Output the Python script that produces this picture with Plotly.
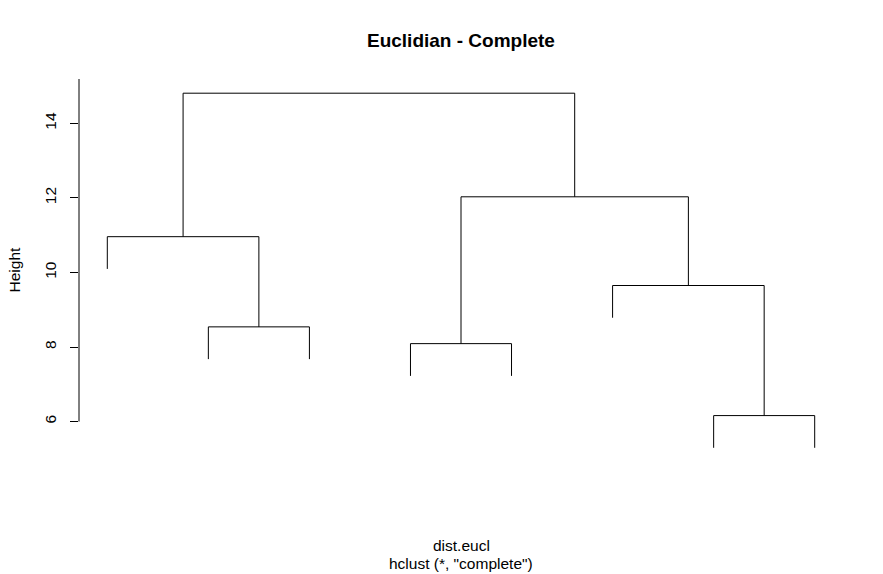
import plotly.graph_objects as go

# Dendrogram data (R hclust convention: negative = leaf position, positive = earlier merge step)
merge_left = [-7, -4, -2, -6, -1, 2, 5]
merge_right = [-8, -5, -3, 1, 3, 4, 6]
merge_heights = [6.16, 8.09, 8.54, 9.65, 10.96, 12.03, 14.81]
n_leaves = 8
y_ticks = [6, 8, 10, 12, 14]

title_text = "Euclidian - Complete"
sub_line1 = "dist.eucl"
sub_line2 = 'hclust (*, "complete")'
ylab = "Height"

FONT = "Liberation Sans, Arial, sans-serif"

hang = 0.1 * (max(merge_heights) - min(merge_heights))

node_x = {}
xs, ys = [], []
for i, (a, b) in enumerate(zip(merge_left, merge_right)):
    h = merge_heights[i]
    pts = []
    for c in (a, b):
        if c < 0:
            cx, cy = float(-c), h - hang
        else:
            cx, cy = node_x[c], merge_heights[c - 1]
        pts.append((cx, cy))
    node_x[i + 1] = (pts[0][0] + pts[1][0]) / 2
    xs += [pts[0][0], pts[0][0], pts[1][0], pts[1][0], None]
    ys += [pts[0][1], h, h, pts[1][1], None]

leaf_bottoms = [merge_heights[i] - hang for i in range(len(merge_heights))
                if merge_left[i] < 0 or merge_right[i] < 0]
ymin = min(leaf_bottoms)
ymax = max(merge_heights)
ypad = 0.04 * (ymax - ymin)
yrange = [ymin - ypad, ymax + ypad]
xpad = 0.04 * (n_leaves - 1)
xrange = [1 - xpad, n_leaves + xpad]

fig = go.Figure()
fig.add_trace(go.Scatter(x=xs, y=ys, mode="lines",
                         line=dict(color="black", width=1),
                         hoverinfo="skip", showlegend=False))

L, R, T, B = 79, 40, 79, 112
W, H = 883, 574
ph = H - T - B

def py(px):
    return (H - B - px) / ph

fig.update_layout(
    width=W, height=H,
    margin=dict(l=L, r=R, t=T, b=B, pad=0),
    paper_bgcolor="white", plot_bgcolor="white",
    font=dict(family=FONT, size=15.5, color="black"),
    showlegend=False,
    xaxis=dict(range=xrange, visible=False, fixedrange=True),
    yaxis=dict(range=yrange, showgrid=False, zeroline=False, showline=False,
               tickvals=y_ticks, ticktext=[str(v) for v in y_ticks],
               ticks="outside", ticklen=8, tickwidth=1, tickcolor="black",
               tickangle=-90, tickfont=dict(size=15.5, family=FONT, color="black"),
               ticklabelstandoff=8, fixedrange=True),
    shapes=[dict(type="line", xref="paper", yref="y", x0=0, x1=0,
                 y0=y_ticks[0], y1=yrange[1],
                 line=dict(color="black", width=1))],
    annotations=[
        dict(text="<b>" + title_text + "</b>", xref="paper", yref="paper",
             x=0.5, y=py(40), xanchor="center", yanchor="middle",
             showarrow=False, font=dict(size=19, family=FONT, color="black")),
        dict(text=sub_line1, xref="paper", yref="paper",
             x=0.5, y=py(545), xanchor="center", yanchor="middle",
             showarrow=False, font=dict(size=15.5, family=FONT, color="black")),
        dict(text=sub_line2, xref="paper", yref="paper",
             x=0.5, y=py(563), xanchor="center", yanchor="middle",
             showarrow=False, font=dict(size=15.5, family=FONT, color="black")),
        dict(text=ylab, xref="paper", yref="paper",
             x=(14 - L) / (W - L - R), y=0.5, xanchor="center", yanchor="middle",
             textangle=-90, showarrow=False,
             font=dict(size=15.5, family=FONT, color="black")),
    ],
)

fig.write_html("out.html")
